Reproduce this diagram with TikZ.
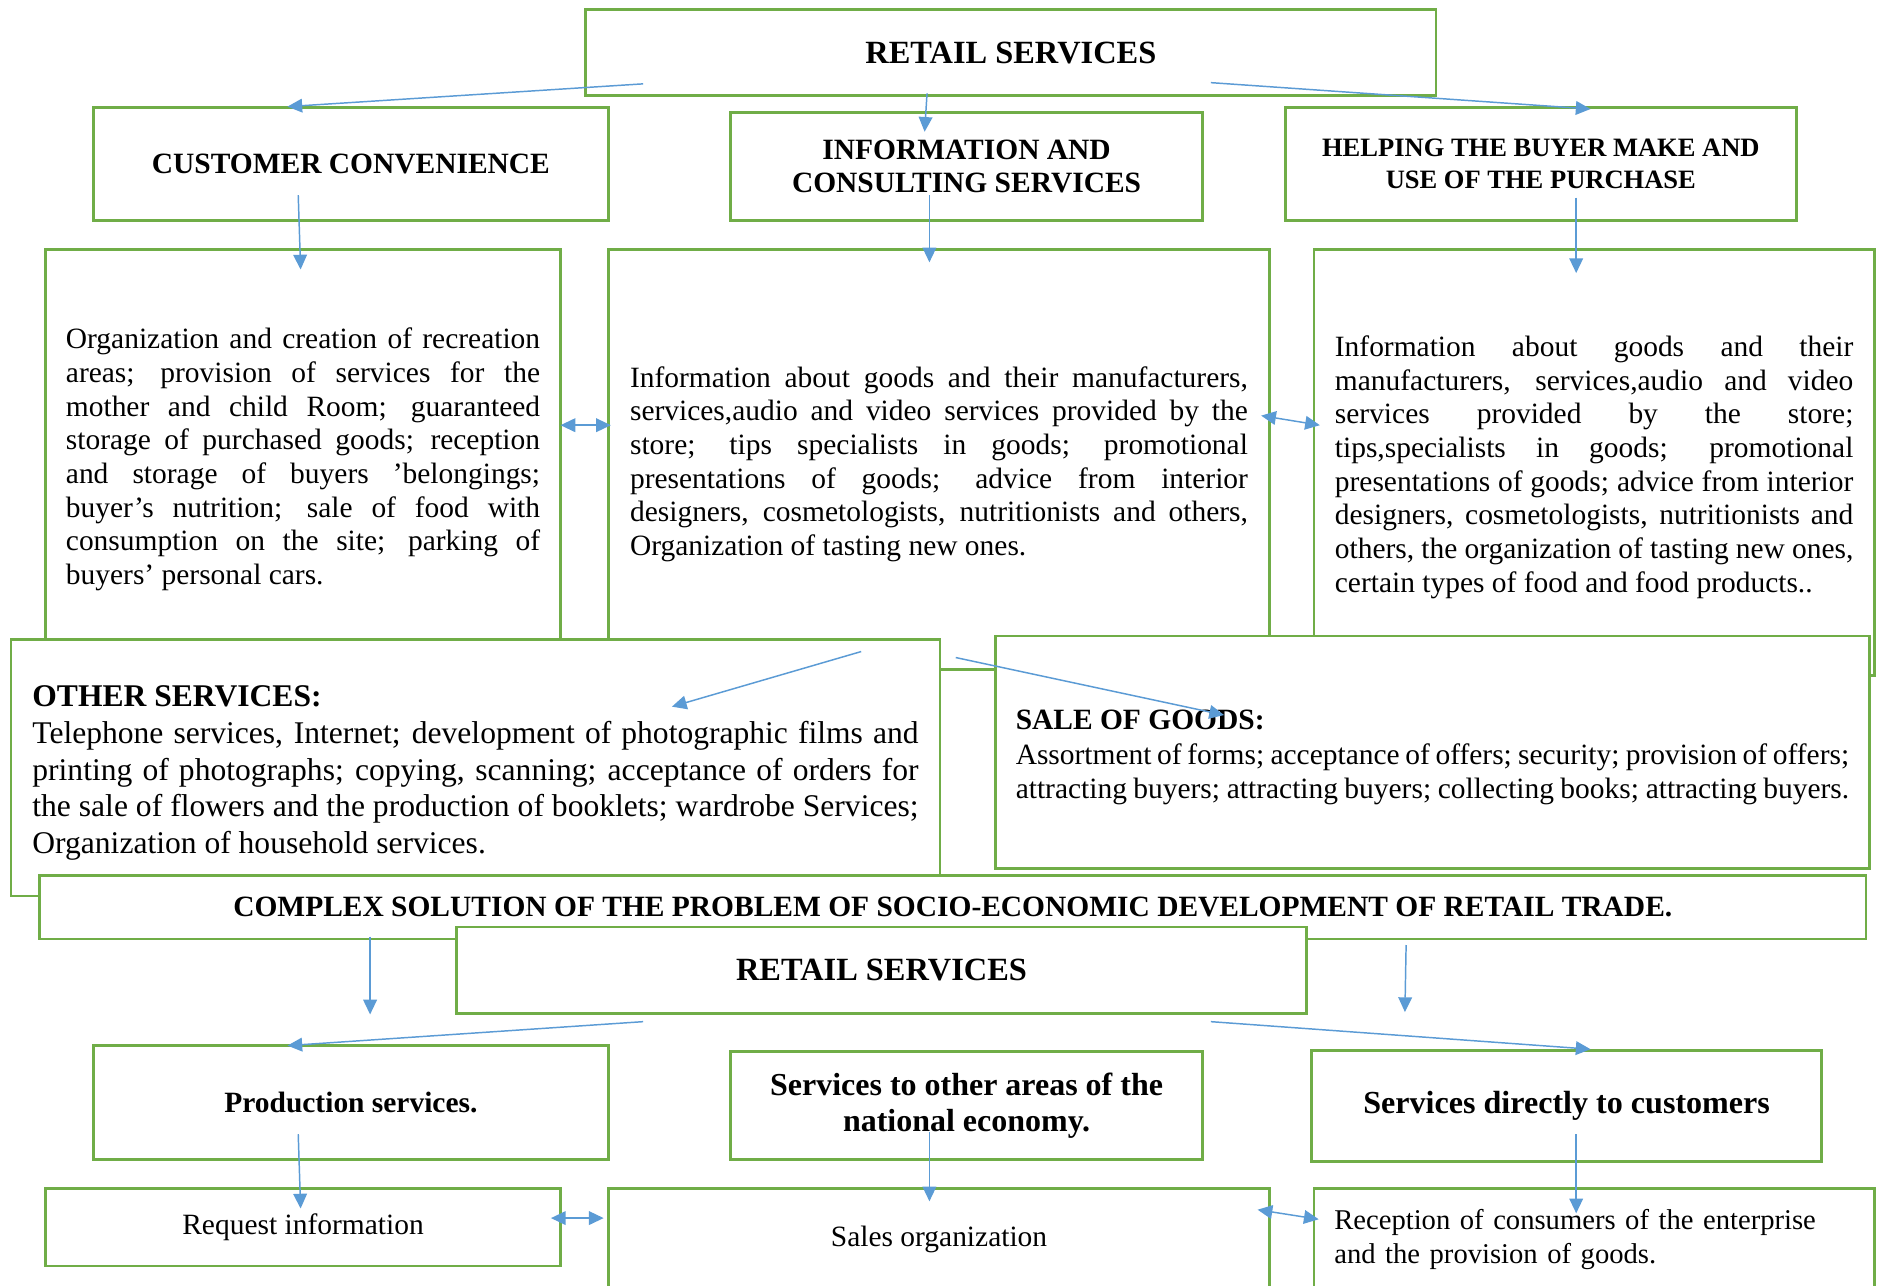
\documentclass[tikz,border=0pt]{standalone}
\usepackage{fontspec}
\setmainfont{Liberation Serif}
\usetikzlibrary{arrows.meta}
\definecolor{boxgreen}{RGB}{112,173,71}
\definecolor{arrblue}{RGB}{91,155,213}

\begin{document}
\begin{tikzpicture}[x=0.02cm,y=-0.02cm,
	box/.style={draw=boxgreen,line width=1.3pt,fill=white,inner sep=0pt},
	hd/.style={font=\bfseries\fontsize{14}{16}\selectfont,align=center},
	body/.style={font=\fontsize{14}{16}\selectfont,align=justify},
	low/.style={execute at begin node={\rule{0pt}{#1}}},
	arr/.style={draw=arrblue,line width=0.7pt,-{Triangle[length=7pt,width=6.5pt]}},
	darr/.style={draw=arrblue,line width=0.7pt,{Triangle[length=7pt,width=6.5pt]}-{Triangle[length=7pt,width=6.5pt]}}]
	\useasboundingbox (0,0) rectangle (1568,1073);
	% upper scheme
	\node[box,hd,font=\bfseries\fontsize{15.4}{17}\selectfont,minimum width=14.2cm,minimum height=1.44cm] (ret) at (844,44) {RETAIL SERVICES};
	\node[box,hd,minimum width=8.6cm,minimum height=1.88cm] (conv) at (293,137) {CUSTOMER CONVENIENCE};
	\node[box,hd,minimum width=7.88cm,minimum height=1.8cm] (info) at (807,139) {INFORMATION AND\\CONSULTING SERVICES};
	\node[box,hd,font=\bfseries\fontsize{12.6}{15.3}\selectfont,minimum width=8.54cm,minimum height=1.88cm] (help) at (1286.5,137) {HELPING THE BUYER MAKE AND\\USE OF THE PURCHASE};
	\node[box,body,text width=7.92cm,minimum width=8.6cm,minimum height=7.02cm] (convtxt) at (253,383.5) {Organization and creation of recreation\linebreak
		areas; provision of services for the\linebreak
		mother and child Room; guaranteed\linebreak
		storage of purchased goods; reception\linebreak
		and storage of buyers 'belongings;\linebreak
		buyer's nutrition; sale of food with\linebreak
		consumption on the site; parking of\linebreak
		buyers' personal cars.};
	\node[box,body,low=14.5pt,text width=10.32cm,minimum width=11.04cm,minimum height=7.02cm] (infotxt) at (784,383.5) {Information about goods and their manufacturers,\linebreak
		services,audio and video services provided by the\linebreak
		store; tips specialists in goods; promotional\linebreak
		presentations of goods; advice from interior\linebreak
		designers, cosmetologists, nutritionists and others,\linebreak
		Organization of tasting new ones.};
	\node[box,body,low=14.5pt,text width=8.66cm,minimum width=9.36cm,minimum height=7.12cm] (helptxt) at (1331,386) {Information about goods and their\linebreak
		manufacturers, services,audio and video\linebreak
		services provided by the store;\linebreak
		tips,specialists in goods; promotional\linebreak
		presentations of goods; advice from interior\linebreak
		designers, cosmetologists, nutritionists and\linebreak
		others, the organization of tasting new ones,\linebreak
		certain types of food and food products..};
	\node[box,body,low=15pt,font=\fontsize{15}{17.5}\selectfont,text width=14.8cm,minimum width=15.52cm,minimum height=4.28cm] (other) at (397,641) {\textbf{OTHER SERVICES:}\\
		Telephone services, Internet; development of photographic films and\linebreak
		printing of photographs; copying, scanning; acceptance of orders for\linebreak
		the sale of flowers and the production of booklets; wardrobe Services;\linebreak
		Organization of household services.};
	\node[box,body,low=14.5pt,font=\fontsize{14}{16.5}\selectfont,text width=13.92cm,minimum width=14.6cm,minimum height=3.88cm] (sale) at (1196,628) {\textbf{SALE OF GOODS:}\\
		Assortment of forms; acceptance of offers; security; provision of offers;\linebreak
		attracting buyers; attracting buyers; collecting books; attracting buyers.};
	% lower scheme
	\node[box,hd,font=\bfseries\fontsize{14}{16}\selectfont,minimum width=30.5cm,minimum height=1.06cm] (cplx) at (795.5,757.5) {COMPLEX SOLUTION OF THE PROBLEM OF SOCIO-ECONOMIC DEVELOPMENT OF RETAIL TRADE.};
	\node[box,hd,font=\bfseries\fontsize{15.4}{17}\selectfont,minimum width=14.2cm,minimum height=1.44cm] (ret2) at (736,810) {RETAIL SERVICES};
	\node[box,hd,minimum width=8.6cm,minimum height=1.9cm] (prod) at (293,920.5) {Production services.};
	\node[box,hd,font=\bfseries\fontsize{15.2}{17}\selectfont,minimum width=7.88cm,minimum height=1.8cm] (econ) at (807,923) {Services to other areas of the\\national economy.};
	\node[box,hd,font=\bfseries\fontsize{15.25}{17}\selectfont,minimum width=8.52cm,minimum height=1.86cm] (cust) at (1308,923.5) {Services directly to customers};
	\node[box,font=\fontsize{14}{16}\selectfont,minimum width=8.6cm,minimum height=1.3cm] (req) at (253,1024.5) {Request information};
	\node[box,font=\fontsize{14}{16}\selectfont,minimum width=11.04cm,minimum height=1.72cm] (sorg) at (784,1035) {Sales organization};
	\node[box,font=\fontsize{13.6}{16.5}\selectfont,align=left,text width=8.68cm,minimum width=9.36cm,minimum height=1.72cm] (recp) at (1331,1035) {Reception of consumers of the enterprise\\and the provision of goods.};
	% arrow ends
	\coordinate (retL) at (537,70);
	\coordinate (retM) at (774,78);
	\coordinate (retR) at (1011,69);
	\coordinate (convT) at (240,89);
	\coordinate (infoT) at (772,110);
	\coordinate (helpT) at (1328,91);
	\coordinate (convB) at (249,163);
	\coordinate (convtxtT) at (251,225);
	\coordinate (infoB) at (776,163);
	\coordinate (infotxtT) at (776,219);
	\coordinate (helpB) at (1316,165);
	\coordinate (helptxtT) at (1316,228);
	\coordinate (convtxtE) at (468,355);
	\coordinate (infotxtW) at (510,355);
	\coordinate (infotxtE) at (1053,347);
	\coordinate (helptxtW) at (1102,355);
	\coordinate (infotxtS) at (719,544);
	\coordinate (otherIn) at (561,590);
	\coordinate (infotxtS2) at (798,549);
	\coordinate (saleIn) at (1022,597);
	\coordinate (cplxL) at (309,782);
	\coordinate (cplxLo) at (309,847);
	\coordinate (cplxR) at (1174,789);
	\coordinate (cplxRo) at (1173,845);
	\coordinate (ret2L) at (537,853);
	\coordinate (ret2R) at (1011,853);
	\coordinate (prodT) at (240,873);
	\coordinate (custT) at (1328,876);
	\coordinate (prodB) at (249,947);
	\coordinate (reqT) at (251,1009);
	\coordinate (econB) at (776,945);
	\coordinate (sorgT) at (776,1003);
	\coordinate (custB) at (1316,947);
	\coordinate (recpT) at (1316,1013);
	\coordinate (reqE) at (460,1017);
	\coordinate (sorgW) at (504,1017);
	\coordinate (sorgE) at (1050,1010);
	\coordinate (recpW) at (1101,1018);
	% arrows
	\draw[arr] (retL) -- (convT);
	\draw[arr] (retM) -- (infoT);
	\draw[arr] (retR) -- (helpT);
	\draw[arr] (convB) -- (convtxtT);
	\draw[arr] (infoB) -- (infotxtT);
	\draw[arr] (helpB) -- (helptxtT);
	\draw[darr] (convtxtE) -- (infotxtW);
	\draw[darr] (infotxtE) -- (helptxtW);
	\draw[arr] (infotxtS) -- (otherIn);
	\draw[arr] (infotxtS2) -- (saleIn);
	\draw[arr] (cplxL) -- (cplxLo);
	\draw[arr] (cplxR) -- (cplxRo);
	\draw[arr] (ret2L) -- (prodT);
	\draw[arr] (ret2R) -- (custT);
	\draw[arr] (prodB) -- (reqT);
	\draw[arr] (econB) -- (sorgT);
	\draw[arr] (custB) -- (recpT);
	\draw[darr] (reqE) -- (sorgW);
	\draw[darr] (sorgE) -- (recpW);
\end{tikzpicture}
\end{document}
